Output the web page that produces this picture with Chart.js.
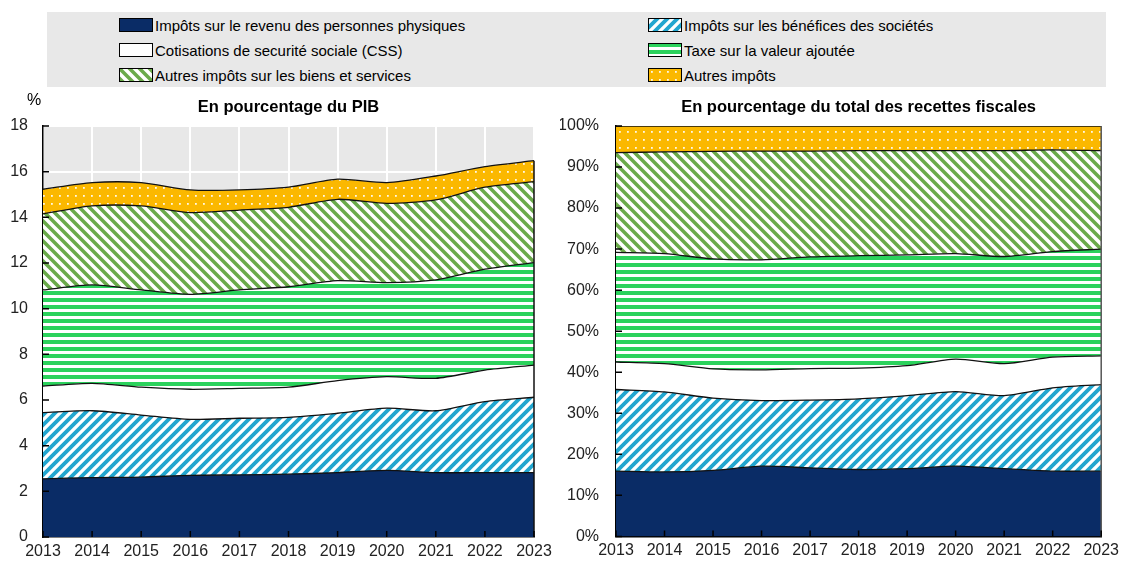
<!DOCTYPE html>
<html lang="fr">
<head>
<meta charset="utf-8">
<title>Structure des recettes fiscales</title>
<script src="https://cdn.jsdelivr.net/npm/chart.js@4.4.0/dist/chart.umd.min.js"></script>
<style>
    html, body { margin: 0; padding: 0; background: #fff; }
    #wrap { position: relative; width: 1124px; height: 563px; overflow: hidden;
            font-family: 'Liberation Sans', Arial, sans-serif; color: #000; }
    #legend { position: absolute; left: 47px; top: 12px; width: 1059px; height: 75px; background: #e8e8e8; }
    .item { position: absolute; height: 18px; display: flex; align-items: center; font-size: 15px; white-space: nowrap; }
    .item canvas { display: block; margin-right: 2px; }
    #pibChart { position: absolute; left: 0; top: 88px; }
    #shareChart { position: absolute; left: 560px; top: 88px; }
</style>
</head>
<body>
<div id="wrap">
    <div id="legend"></div>
    <canvas id="pibChart" width="560" height="475"></canvas>
    <canvas id="shareChart" width="564" height="475"></canvas>
</div>
<script>
// ---- données ----
const years = ['2013', '2014', '2015', '2016', '2017', '2018', '2019', '2020', '2021', '2022', '2023'];
const pibTicks = [0, 2, 4, 6, 8, 10, 12, 14, 16, 18];
const shareTicks = [0, 10, 20, 30, 40, 50, 60, 70, 80, 90, 100];

const seriesLabels = [
    'Impôts sur le revenu des personnes physiques',
    'Impôts sur les bénéfices des sociétés',
    'Cotisations de securité sociale (CSS)',
    'Taxe sur la valeur ajoutée',
    'Autres impôts sur les biens et services',
    'Autres impôts'
];

// En pourcentage du PIB
const pibIRPP     = [2.55, 2.60, 2.62, 2.70, 2.72, 2.75, 2.82, 2.92, 2.82, 2.82, 2.82];
const pibIS       = [2.90, 2.93, 2.72, 2.45, 2.48, 2.49, 2.60, 2.72, 2.71, 3.11, 3.30];
const pibCSS      = [1.16, 1.20, 1.22, 1.32, 1.31, 1.32, 1.43, 1.38, 1.42, 1.38, 1.41];
const pibTVA      = [4.21, 4.31, 4.26, 4.16, 4.31, 4.40, 4.38, 4.12, 4.31, 4.42, 4.49];
const pibAutresBS = [3.33, 3.46, 3.68, 3.58, 3.50, 3.48, 3.56, 3.47, 3.50, 3.59, 3.54];
const pibAutres   = [1.08, 1.02, 1.02, 0.99, 0.88, 0.88, 0.88, 0.91, 1.05, 0.90, 0.92];

// En pourcentage du total des recettes fiscales
const partIRPP     = [15.9, 15.7, 16.1, 17.1, 16.7, 16.3, 16.5, 17.1, 16.5, 15.9, 15.9];
const partIS       = [19.9, 19.5, 17.6, 16.0, 16.5, 17.2, 17.8, 18.2, 17.8, 20.3, 21.1];
const partCSS      = [6.7, 6.9, 7.1, 7.5, 7.7, 7.5, 7.3, 7.9, 7.8, 7.5, 7.0];
const partTVA      = [26.7, 26.8, 26.8, 26.8, 27.2, 27.4, 27.0, 25.7, 26.1, 25.7, 26.0];
const partAutresBS = [24.3, 24.8, 26.2, 26.5, 25.8, 25.6, 25.4, 25.1, 25.8, 24.8, 24.0];
const partAutres   = [6.5, 6.3, 6.2, 6.1, 6.1, 6.0, 6.0, 6.0, 6.0, 5.8, 6.0];

const FONT = "'Liberation Sans', Arial, sans-serif";

/**
 * Motifs de remplissage (hachures, rayures, points)
 */
function makeTile(w, h, draw) {
    const c = document.createElement('canvas');
    c.width = w;
    c.height = h;
    draw(c.getContext('2d'), w, h);
    return c;
}

const tiles = [
    // IRPP : bleu marine plein
    makeTile(8, 8, (g, w, h) => { g.fillStyle = '#0a2c66'; g.fillRect(0, 0, w, h); }),
    // IS : hachures bleues "/"
    makeTile(10, 10, (g, s) => {
        g.fillStyle = '#fff'; g.fillRect(0, 0, s, s);
        g.strokeStyle = '#22a6cf'; g.lineWidth = 3.8;
        g.beginPath();
        g.moveTo(-2, 2); g.lineTo(2, -2);
        g.moveTo(0, s); g.lineTo(s, 0);
        g.moveTo(s - 2, s + 2); g.lineTo(s + 2, s - 2);
        g.stroke();
    }),
    // CSS : blanc
    makeTile(8, 8, (g, w, h) => { g.fillStyle = '#fff'; g.fillRect(0, 0, w, h); }),
    // TVA : rayures horizontales vertes
    makeTile(8, 7, (g, w, h) => {
        g.fillStyle = '#fff'; g.fillRect(0, 0, w, h);
        g.fillStyle = '#2bd25c'; g.fillRect(0, 0, w, 4);
    }),
    // Autres biens et services : hachures vertes "\"
    makeTile(10, 10, (g, s) => {
        g.fillStyle = '#fff'; g.fillRect(0, 0, s, s);
        g.strokeStyle = '#6aaa4a'; g.lineWidth = 3.6;
        g.beginPath();
        g.moveTo(-2, s - 2); g.lineTo(2, s + 2);
        g.moveTo(0, 0); g.lineTo(s, s);
        g.moveTo(s - 2, -2); g.lineTo(s + 2, 2);
        g.stroke();
    }),
    // Autres impôts : jaune à points blancs
    makeTile(8, 8, (g, w, h) => {
        g.fillStyle = '#fbb800'; g.fillRect(0, 0, w, h);
        g.fillStyle = 'rgba(255,255,255,0.9)'; g.fillRect(3, 3, 1.8, 1.8);
    })
];

function patternFor(ctx, i) {
    return ctx.createPattern(tiles[i], 'repeat');
}

/**
 * Légende HTML (deux colonnes, trois lignes)
 */
function buildLegend() {
    const box = document.getElementById('legend');
    const cols = [119 - 47, 648 - 47];
    const rows = [25 - 12, 50 - 12, 75 - 12];
    seriesLabels.forEach((label, i) => {
        const item = document.createElement('div');
        item.className = 'item';
        item.style.left = cols[i % 2] + 'px';
        item.style.top = (rows[Math.floor(i / 2)] - 9) + 'px';
        const sw = document.createElement('canvas');
        sw.width = 34;
        sw.height = 14;
        const g = sw.getContext('2d');
        g.fillStyle = patternFor(g, i);
        g.fillRect(0, 0, 34, 14);
        g.strokeStyle = '#000';
        g.lineWidth = 1;
        g.strokeRect(0.5, 0.5, 33, 13);
        item.appendChild(sw);
        const txt = document.createElement('span');
        txt.textContent = label;
        item.appendChild(txt);
        box.appendChild(item);
    });
}

/**
 * Plugin : fond gris, titre, bord droit et petites graduations intérieures
 */
const panelPlugin = {
    id: 'panel',
    beforeDraw(chart, args, opts) {
        const { ctx, chartArea: a } = chart;
        ctx.save();
        ctx.fillStyle = '#e8e8e8';
        ctx.fillRect(a.left, a.top, a.right - a.left, a.bottom - a.top);
        ctx.restore();
    },
    afterDatasetsDraw(chart, args, opts) {
        const { ctx, chartArea: a, scales } = chart;
        ctx.save();
        // bord droit des aires
        const last = chart.getDatasetMeta(chart.data.datasets.length - 1).data;
        const topPt = last[last.length - 1];
        ctx.strokeStyle = opts.edgeColor;
        ctx.lineWidth = 1.5;
        ctx.beginPath();
        ctx.moveTo(a.right, a.bottom);
        ctx.lineTo(a.right, topPt.y);
        ctx.stroke();
        // graduations
        ctx.strokeStyle = '#000';
        ctx.lineWidth = 1.5;
        ctx.beginPath();
        scales.y.ticks.forEach(t => {
            const y = scales.y.getPixelForValue(t.value);
            ctx.moveTo(a.left, y);
            ctx.lineTo(a.left + 6, y);
        });
        scales.x.ticks.forEach((t, i) => {
            const x = scales.x.getPixelForTick(i);
            ctx.moveTo(x, a.bottom);
            ctx.lineTo(x, a.bottom - 6);
        });
        ctx.stroke();
        // titre
        ctx.fillStyle = '#000';
        ctx.font = 'bold 16.5px ' + FONT;
        ctx.textAlign = 'center';
        ctx.textBaseline = 'middle';
        ctx.fillText(opts.title, (a.left + a.right) / 2, 19);
        if (opts.unit) {
            ctx.font = '16px ' + FONT;
            ctx.fillText(opts.unit, 34, 13);
        }
        ctx.restore();
    }
};

function createStackChart(canvasId, series, cfg) {
    const canvas = document.getElementById(canvasId);
    const ctx = canvas.getContext('2d');
    return new Chart(ctx, {
        type: 'line',
        data: {
            labels: years,
            datasets: series.map((data, i) => ({
                label: seriesLabels[i],
                data: data,
                backgroundColor: patternFor(ctx, i),
                borderColor: '#111',
                borderWidth: 1.3,
                fill: i === 0 ? 'origin' : '-1',
                pointRadius: 0,
                tension: 0.25
            }))
        },
        options: {
            responsive: false,
            animation: false,
            layout: { padding: { top: 38, right: cfg.padRight, left: 0, bottom: 0 } },
            plugins: {
                legend: { display: false },
                tooltip: { enabled: false },
                panel: { title: cfg.title, unit: cfg.unit, edgeColor: cfg.edgeColor }
            },
            scales: {
                x: {
                    offset: false,
                    afterFit: s => { s.height = 26; },
                    grid: { display: cfg.grid, color: '#fff', lineWidth: 2, drawTicks: false },
                    border: { display: true, color: '#000', width: 1.5 },
                    ticks: { color: '#222', font: { family: FONT, size: 16 }, padding: 5, maxRotation: 0, autoSkip: false }
                },
                y: {
                    stacked: true,
                    min: 0,
                    max: cfg.max,
                    afterFit: s => { s.width = cfg.axisWidth; },
                    afterBuildTicks: s => { s.ticks = cfg.ticks.map(v => ({ value: v })); },
                    grid: { display: cfg.grid, color: '#fff', lineWidth: 2, drawTicks: false },
                    border: { display: true, color: '#000', width: 1.5 },
                    ticks: {
                        color: '#222',
                        font: { family: FONT, size: 16 },
                        padding: cfg.tickPad,
                        callback: cfg.format
                    }
                }
            }
        },
        plugins: [panelPlugin]
    });
}

buildLegend();

createStackChart('pibChart',
    [pibIRPP, pibIS, pibCSS, pibTVA, pibAutresBS, pibAutres],
    {
        title: 'En pourcentage du PIB', unit: '%', max: 18, ticks: pibTicks,
        padRight: 26, axisWidth: 43, tickPad: 15, grid: true, edgeColor: '#111',
        format: v => v
    });

createStackChart('shareChart',
    [partIRPP, partIS, partCSS, partTVA, partAutresBS, partAutres],
    {
        title: 'En pourcentage du total des recettes fiscales', unit: null, max: 100, ticks: shareTicks,
        padRight: 22, axisWidth: 56, tickPad: 17, grid: false, edgeColor: '#555',
        format: v => v + '%'
    });
</script>
</body>
</html>
